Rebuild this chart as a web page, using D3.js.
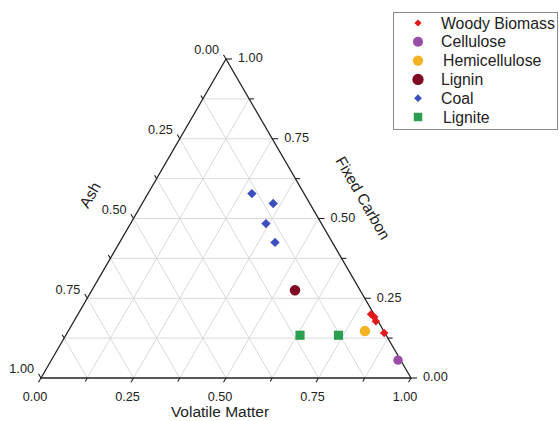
<!DOCTYPE html>
<html>
<head>
<meta charset="utf-8">
<script src="https://cdn.jsdelivr.net/npm/d3@7"></script>
<style>
html,body{margin:0;padding:0;background:#fff;}
svg text{font-family:"Liberation Sans",Arial,sans-serif;fill:#222;}
</style>
</head>
<body>
<svg id="chart" width="559" height="421"></svg>
<script>
// ---- data (fractions: Ash, Volatile Matter, Fixed Carbon) ----
const woodyAsh = [0.008, 0.004, 0.006, 0.002];
const woodyVM  = [0.792, 0.805, 0.816, 0.857];
const woodyFC  = [0.200, 0.191, 0.178, 0.141];

const celluloseAsh = [0.007];
const celluloseVM  = [0.937];
const celluloseFC  = [0.056];

const hemiAsh = [0.051];
const hemiVM  = [0.802];
const hemiFC  = [0.147];

const ligninAsh = [0.176];
const ligninVM  = [0.549];
const ligninFC  = [0.275];

const coalAsh = [0.141, 0.099, 0.150, 0.155];
const coalVM  = [0.281, 0.354, 0.366, 0.420];
const coalFC  = [0.578, 0.547, 0.484, 0.425];

const ligniteAsh = [0.233, 0.129];
const ligniteVM  = [0.633, 0.737];
const ligniteFC  = [0.134, 0.134];

const seriesNames = ["Woody Biomass", "Cellulose", "Hemicellulose", "Lignin", "Coal", "Lignite"];
const tickValues = [0, 0.25, 0.5, 0.75, 1];
const tickLabels = ["0.00", "0.25", "0.50", "0.75", "1.00"];
const minorTicks = [0.125, 0.375, 0.625, 0.875];
const gridValues = [0.125, 0.25, 0.375, 0.5, 0.625, 0.75, 0.875];
const axisTitles = ["Ash", "Volatile Matter", "Fixed Carbon"];

// ---- styles ----
const styles = [
  {sym: "diamond", color: "#e3191c", size: 36, lsize: 26},
  {sym: "circle",  color: "#9a4da6", size: 70, lsize: 80},
  {sym: "circle",  color: "#f4b223", size: 86, lsize: 84},
  {sym: "circle",  color: "#7d0a22", size: 86, lsize: 100},
  {sym: "diamond", color: "#3d4fbf", size: 44, lsize: 30},
  {sym: "square",  color: "#2b9e4f", size: 84, lsize: 72}
];
const seriesData = [
  [woodyAsh, woodyVM, woodyFC],
  [celluloseAsh, celluloseVM, celluloseFC],
  [hemiAsh, hemiVM, hemiFC],
  [ligninAsh, ligninVM, ligninFC],
  [coalAsh, coalVM, coalFC],
  [ligniteAsh, ligniteVM, ligniteFC]
];

const svg = d3.select("#chart");

// ternary scales: x on (VM + FC/2), y on FC
const sx = d3.scaleLinear().domain([0, 1]).range([41, 411]);
const sy = d3.scaleLinear().domain([0, 1]).range([378, 59]);
function pt(a, v, f) {
  const s = a + v + f;
  v /= s; f /= s;
  return [sx(v + f / 2), sy(f)];
}

// ---- grid ----
const grid = svg.append("g").attr("stroke", "#dadada").attr("stroke-width", 1).attr("fill", "none");
gridValues.forEach(g => {
  let p1 = pt(1 - g, 0, g), p2 = pt(0, 1 - g, g);
  grid.append("line").attr("x1", p1[0]).attr("y1", p1[1]).attr("x2", p2[0]).attr("y2", p2[1]);
  p1 = pt(1 - g, g, 0); p2 = pt(0, g, 1 - g);
  grid.append("line").attr("x1", p1[0]).attr("y1", p1[1]).attr("x2", p2[0]).attr("y2", p2[1]);
  p1 = pt(g, 1 - g, 0); p2 = pt(g, 0, 1 - g);
  grid.append("line").attr("x1", p1[0]).attr("y1", p1[1]).attr("x2", p2[0]).attr("y2", p2[1]);
});

// ---- triangle ----
const A = pt(1, 0, 0), V = pt(0, 1, 0), F = pt(0, 0, 1);
svg.append("path")
  .attr("d", d3.line()([A, V, F, A]) + "Z")
  .attr("fill", "none").attr("stroke", "#222").attr("stroke-width", 1.3);

// ---- ticks ----
const tk = svg.append("g").attr("stroke", "#222").attr("stroke-width", 1.1);
const c60 = 0.5, s60 = Math.sqrt(3) / 2;
function ticksFor(vals, len) {
  vals.forEach(t => {
    let p = pt(t, 0, 1 - t);
    tk.append("line").attr("x1", p[0]).attr("y1", p[1]).attr("x2", p[0] - c60 * len).attr("y2", p[1] - s60 * len);
    p = pt(1 - t, t, 0);
    tk.append("line").attr("x1", p[0]).attr("y1", p[1]).attr("x2", p[0] - c60 * len).attr("y2", p[1] + s60 * len);
    p = pt(0, 1 - t, t);
    tk.append("line").attr("x1", p[0]).attr("y1", p[1]).attr("x2", p[0] + len * 1.2).attr("y2", p[1]);
  });
}
ticksFor(tickValues, 5);
ticksFor(minorTicks, 4);

// ---- tick labels ----
const tl = svg.append("g").attr("font-size", "12.7px");
tickValues.forEach((t, i) => {
  let p = pt(t, 0, 1 - t);
  tl.append("text").attr("x", p[0] - 7).attr("y", p[1] - 9).attr("dy", "0.35em")
    .attr("text-anchor", "end").text(tickLabels[i]);
  p = pt(1 - t, t, 0);
  tl.append("text").attr("x", p[0] - 6).attr("y", p[1] + 19).attr("dy", "0.35em")
    .attr("text-anchor", "middle").text(tickLabels[i]);
  p = pt(0, 1 - t, t);
  tl.append("text").attr("x", p[0] + 12).attr("y", p[1] - 1).attr("dy", "0.35em")
    .attr("text-anchor", "start").text(tickLabels[i]);
});

// ---- axis titles ----
svg.append("text").attr("font-size", "15.5px").attr("text-anchor", "middle")
  .attr("transform", "translate(90,195) rotate(-60)").attr("dy", "0.35em").text(axisTitles[0]);
svg.append("text").attr("font-size", "15.5px").attr("text-anchor", "middle")
  .attr("transform", "translate(220,412)").attr("dy", "0.35em").text(axisTitles[1]);
svg.append("text").attr("font-size", "15.5px").attr("text-anchor", "middle")
  .attr("transform", "translate(363,198) rotate(60)").attr("dy", "0.35em").text(axisTitles[2]);

// ---- markers ----
function symType(s) {
  return s === "circle" ? d3.symbolCircle : d3.symbolSquare;
}
function symTransform(s) { return s === "diamond" ? " rotate(45)" : ""; }

const marks = svg.append("g");
seriesData.forEach((d, si) => {
  const st = styles[si];
  const [ash, vm, fc] = d;
  ash.forEach((a, j) => {
    const p = pt(a, vm[j], fc[j]);
    marks.append("path")
      .attr("d", d3.symbol().type(symType(st.sym)).size(st.size)())
      .attr("transform", `translate(${p[0]},${p[1]})` + symTransform(st.sym))
      .attr("fill", st.color);
  });
});

// ---- legend ----
const lg = svg.append("g");
lg.append("rect").attr("x", 393.5).attr("y", 12.5).attr("width", 164).attr("height", 117)
  .attr("fill", "#fff").attr("stroke", "#8a8a8a").attr("stroke-width", 1);
const ly = d3.scaleLinear().domain([0, 5]).range([23, 117]);
seriesNames.forEach((n, i) => {
  const st = styles[i];
  lg.append("path")
    .attr("d", d3.symbol().type(symType(st.sym)).size(st.lsize)())
    .attr("transform", `translate(418,${ly(i)})` + symTransform(st.sym))
    .attr("fill", st.color);
  lg.append("text").attr("x", i === 2 || i === 5 ? 443 : 441).attr("y", ly(i)).attr("dy", "0.35em")
    .attr("font-size", "15.8px").text(n);
});
</script>
</body>
</html>
